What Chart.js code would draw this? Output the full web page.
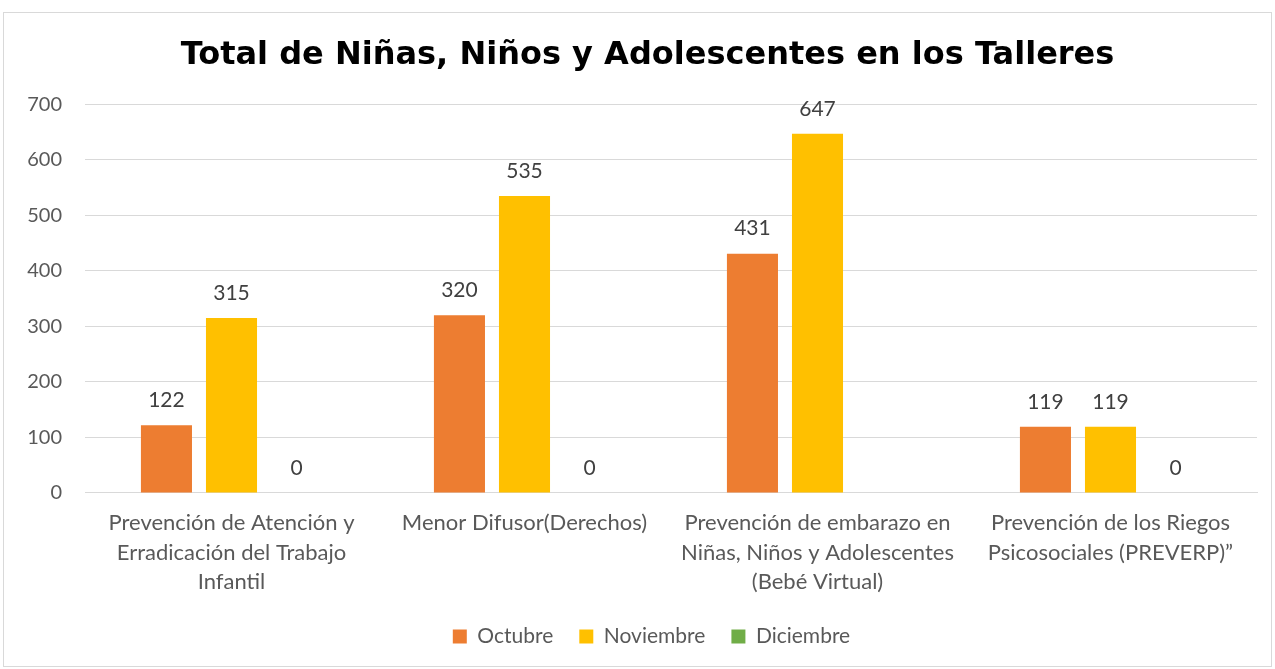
<!DOCTYPE html>
<html>
<head>
<meta charset="utf-8">
<script src="https://cdn.jsdelivr.net/npm/chart.js@4.4.0/dist/chart.umd.min.js"></script>
<style>
  html, body { margin: 0; padding: 0; background: #ffffff; }
  #frame { position: absolute; left: 3px; top: 12px; width: 1267px; height: 653px; border: 1px solid #d9d9d9; background: #fff; }
  #frame canvas { display: block; }
</style>
</head>
<body>
<div id="frame"><canvas id="c" width="1267" height="653"></canvas></div>
<script>
const chartTitle = "Total de Niñas, Niños y Adolescentes en los Talleres";
const categories = [
  ["Prevención de Atención y", "Erradicación del Trabajo", "Infantil"],
  ["Menor Difusor(Derechos)"],
  ["Prevención de embarazo en", "Niñas, Niños y Adolescentes", "(Bebé Virtual)"],
  ["Prevención de los Riegos", "Psicosociales (PREVERP)”"]
];
const seriesNames = ["Octubre", "Noviembre", "Diciembre"];
const octubre = [122, 320, 431, 119];
const noviembre = [315, 535, 647, 119];
const diciembre = [0, 0, null, 0];
const yTicks = [0, 100, 200, 300, 400, 500, 600, 700];
const colors = ["#ED7D31", "#FFC000", "#70AD47"];

const valueLabels = {
  id: 'valueLabels',
  afterDatasetsDraw(chart) {
    const ctx = chart.ctx;
    ctx.save();
    ctx.font = '21px Lato';
    ctx.fillStyle = '#404040';
    ctx.textAlign = 'center';
    ctx.textBaseline = 'middle';
    chart.data.datasets.forEach((ds, i) => {
      const meta = chart.getDatasetMeta(i);
      meta.data.forEach((bar, j) => {
        const v = ds.data[j];
        if (v === null || v === undefined) return;
        ctx.fillText(String(v), bar.x, bar.y - 25);
      });
    });
    ctx.restore();
  }
};

const boxShift = {
  id: 'boxShift',
  afterLayout(chart) {
    if (chart.legend) {
      chart.legend.left += 21;
      chart.legend.right += 21;
    }
    if (chart.titleBlock) {
      chart.titleBlock.left += 17;
      chart.titleBlock.right += 17;
    }
  }
};

new Chart(document.getElementById('c'), {
  type: 'bar',
  data: {
    labels: categories,
    datasets: [
      { label: seriesNames[0], data: octubre, backgroundColor: colors[0] },
      { label: seriesNames[1], data: noviembre, backgroundColor: colors[1] },
      { label: seriesNames[2], data: diciembre, backgroundColor: colors[2] }
    ]
  },
  options: {
    responsive: false,
    animation: false,
    events: [],
    categoryPercentage: 0.666,
    barPercentage: 0.785,
    layout: { padding: { left: 0, right: 14, top: 23, bottom: 9 } },
    plugins: {
      title: {
        display: true,
        text: chartTitle,
        color: '#000000',
        font: { family: 'DejaVu Sans', size: 32, weight: 'bold' },
        padding: { top: 0, bottom: 30 }
      },
      legend: {
        position: 'bottom',
        labels: {
          color: '#595959',
          font: { family: 'Lato', size: 21 },
          boxWidth: 14,
          boxHeight: 14,
          padding: 26
        }
      },
      tooltip: { enabled: false }
    },
    scales: {
      x: {
        grid: { display: false, drawTicks: false },
        border: { display: true, color: '#d9d9d9', width: 1 },
        afterFit(scale) { scale.height -= 12; },
        ticks: {
          color: '#595959',
          font: { family: 'Lato', size: 22, lineHeight: 1.32 },
          padding: 16,
          maxRotation: 0,
          autoSkip: false
        }
      },
      y: {
        min: 0,
        max: 700,
        afterFit(scale) { scale.width = 81; },
        afterBuildTicks(scale) { scale.ticks = yTicks.map(v => ({ value: v })); },
        grid: { color: '#d9d9d9', lineWidth: 1, drawTicks: false },
        border: { display: false },
        ticks: {
          color: '#595959',
          font: { family: 'Lato', size: 20 },
          padding: 23
        }
      }
    }
  },
  plugins: [valueLabels, boxShift]
});
</script>
</body>
</html>
